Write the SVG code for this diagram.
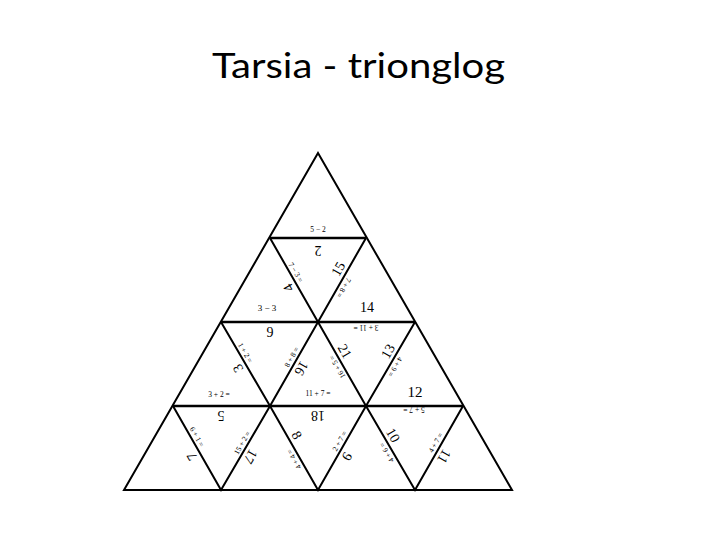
<svg xmlns="http://www.w3.org/2000/svg" width="720" height="540" viewBox="0 0 720 540">
<style>
.ln{fill:none;stroke:#000;stroke-width:2;stroke-linejoin:miter}
.hl{stroke:#000;stroke-width:2.6}
.big{font-family:"Liberation Serif",serif;font-size:14px;fill:#000;text-anchor:middle}
.sm{font-family:"Liberation Serif",serif;font-size:7.5px;fill:#000;text-anchor:middle}
.title{font-family:Lato,"Open Sans",sans-serif;font-size:35px;fill:#000;text-anchor:middle}
</style>
<rect width="720" height="540" fill="#fff"/>
<text id="title" class="title" x="358.5" y="78" textLength="293" lengthAdjust="spacingAndGlyphs">Tarsia - trionglog</text>
<g id="grid">
<polygon class="ln" points="318,153 124,490 512,490"/>
<line class="hl" x1="270" y1="238" x2="366" y2="238"/>
<line class="hl" x1="221" y1="322" x2="415" y2="322"/>
<line class="hl" x1="173" y1="406" x2="463" y2="406"/>
<polyline class="ln" points="270,238 318,322 366,238"/>
<polyline class="ln" points="221,322 270,406 318,322 366,406 415,322"/>
<polyline class="ln" points="173,406 221,490 270,406 318,490 366,406 415,490 463,406"/>
</g>
<g id="horizontal-labels">
<text class="sm" x="318" y="232">5 − 2</text>
<text class="big" transform="translate(318,246) rotate(180)">2</text>
<text class="sm" x="267" y="311" style="font-size:9px">3 − 3</text>
<text class="big" x="367" y="312">14</text>
<text class="big" x="270" y="337">9</text>
<text class="sm" transform="translate(366,325) rotate(180)">3 + 11 =</text>
<text class="sm" x="219" y="397">3 + 2 =</text>
<text class="big" transform="translate(221,411) rotate(180)">5</text>
<text class="sm" x="318" y="396">11 + 7 =</text>
<text class="big" transform="translate(318,411) rotate(180)">18</text>
<text class="big" x="415" y="397" style="font-size:15px">12</text>
<text class="sm" transform="translate(414,407) rotate(180)">5 + 7 =</text>
</g>
<g id="diagonal-labels">
<text class="big" transform="translate(295.9,283.4) rotate(-120)" y="-4">4</text>
<text class="sm" transform="translate(291.1,275) rotate(60)" y="-3">7 − 3 =</text>
<text class="big" transform="translate(345.8,273.3) rotate(-60)" y="-4">15</text>
<text class="sm" transform="translate(339.1,285) rotate(120)" y="-3">7 + 8 =</text>
<text class="big" transform="translate(245.5,364) rotate(-120)" y="-4">3</text>
<text class="sm" transform="translate(240.6,355.6) rotate(60)" y="-3">1 + 2 =</text>
<text class="big" transform="translate(294,364) rotate(120)" y="-4">16</text>
<text class="sm" transform="translate(296.4,359.8) rotate(-60)" y="-3">8 + 8 =</text>
<text class="big" transform="translate(337.2,355.6) rotate(60)" y="-4">21</text>
<text class="sm" transform="translate(342,364) rotate(-120)" y="-3">16 + 5 =</text>
<text class="big" transform="translate(395.4,355.6) rotate(-60)" y="-4">13</text>
<text class="sm" transform="translate(390.5,364) rotate(120)" y="-3">4 + 9 =</text>
<text class="sm" transform="translate(192.2,439.6) rotate(60)" y="-3">6 + 1 =</text>
<text class="big" transform="translate(199.4,452.2) rotate(-120)" y="-4">7</text>
<text class="sm" transform="translate(247,445.5) rotate(-60)" y="-3">15 + 2 =</text>
<text class="big" transform="translate(243,452.2) rotate(120)" y="-4">17</text>
<text class="big" transform="translate(289.2,439.6) rotate(60)" y="-4">8</text>
<text class="sm" transform="translate(298.8,456.4) rotate(-120)" y="-3">4 + 4 =</text>
<text class="sm" transform="translate(344.4,443.8) rotate(-60)" y="-3">2 + 7 =</text>
<text class="big" transform="translate(339.6,452.2) rotate(120)" y="-4">9</text>
<text class="big" transform="translate(385.6,439.6) rotate(60)" y="-4">10</text>
<text class="sm" transform="translate(391.5,449.7) rotate(-120)" y="-3">4 + 6 =</text>
<text class="sm" transform="translate(440.4,445.5) rotate(-60)" y="-3">4 + 7 =</text>
<text class="big" transform="translate(436.6,452.2) rotate(120)" y="-4">11</text>
</g>
</svg>
